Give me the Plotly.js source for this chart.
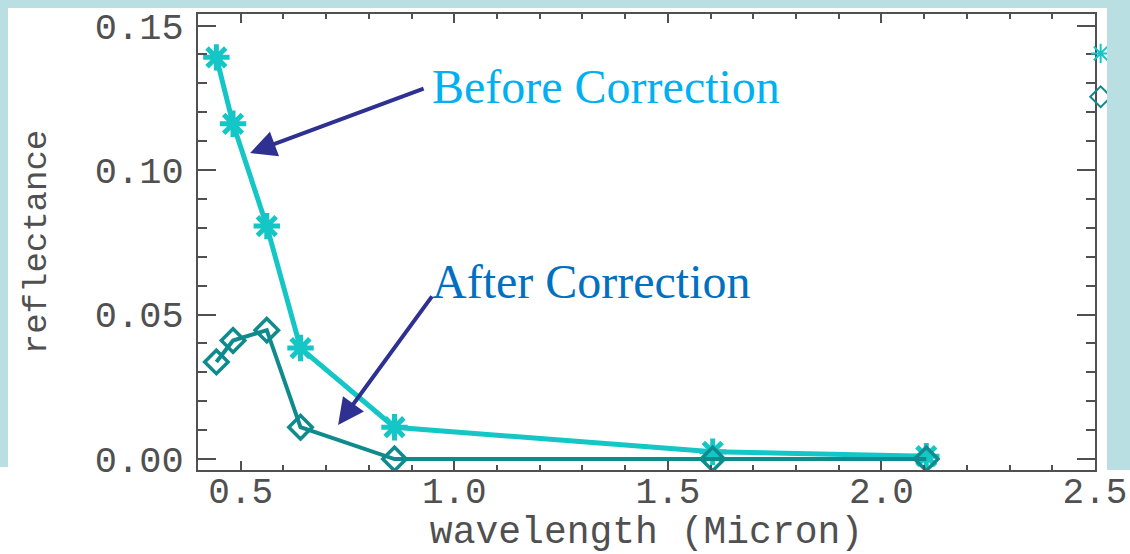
<!DOCTYPE html>
<html>
<head>
<meta charset="utf-8">
<script src="https://cdn.plot.ly/plotly-3.0.1.min.js"></script>
<style>
  html, body { margin: 0; padding: 0; background: #ffffff; }
  #wrap { position: relative; width: 1130px; height: 554px; overflow: hidden; background: #ffffff; }
  #chart { position: absolute; left: 0; top: 0; width: 1130px; height: 554px; z-index: 1; }
  .frame { position: absolute; background: #b9dfe2; z-index: 2; pointer-events: none; }
</style>
</head>
<body>
<div id="wrap">
  <div id="chart"></div>
  <div class="frame" style="left:0;top:0;width:1130px;height:8px;"></div>
  <div class="frame" style="left:0;top:0;width:8px;height:467px;"></div>
  <div class="frame" style="left:1107px;top:0;width:23px;height:470px;"></div>
</div>
<script>
// Band centre wavelengths (micron) and surface reflectance per band
const wavelength = [0.443, 0.482, 0.561, 0.640, 0.860, 1.605, 2.105];
const beforeCorrection = [0.139, 0.116, 0.0806, 0.0384, 0.011, 0.0025, 0.001];
const afterCorrection = [0.0336, 0.041, 0.0446, 0.011, 0.0, 0.0, 0.0];
const seriesNames = ['Before Correction', 'After Correction'];

const cyan = '#14c6c6';
const teal = '#0f8b8d';
const axisColor = '#505050';
const monoFont = 'Liberation Mono, DejaVu Sans Mono, monospace';

const beforeMarker = { symbol: 'asterisk-open', size: 22, color: cyan, line: { color: cyan, width: 5 } };
const afterMarker = { symbol: 'diamond-open', size: 18, color: teal, line: { color: teal, width: 3.5 } };

const traces = [
  {
    x: wavelength, y: beforeCorrection, type: 'scatter', mode: 'lines+markers',
    name: seriesNames[0], showlegend: false,
    line: { color: cyan, width: 5 }, marker: beforeMarker
  },
  {
    x: wavelength, y: afterCorrection, type: 'scatter', mode: 'lines+markers',
    name: seriesNames[1], showlegend: false,
    line: { color: teal, width: 4 }, marker: afterMarker
  },
  // legend entries (symbols only)
  { x: [null], y: [null], type: 'scatter', mode: 'markers', name: seriesNames[0],
    marker: { symbol: 'asterisk-open', size: 16, color: cyan, line: { color: cyan, width: 2 } } },
  { x: [null], y: [null], type: 'scatter', mode: 'markers', name: seriesNames[1],
    marker: { symbol: 'diamond-open', size: 16, color: teal, line: { color: teal, width: 2 } } }
];

const arrowColor = '#2e3192';

const layout = {
  width: 1130, height: 554,
  paper_bgcolor: 'rgba(0,0,0,0)',
  plot_bgcolor: '#ffffff',
  margin: { l: 198, r: 35, t: 14, b: 84, autoexpand: false },
  showlegend: true,
  legend: {
    x: 0.984, y: 0.972, xanchor: 'left', yanchor: 'top',
    bgcolor: 'rgba(0,0,0,0)', borderwidth: 0, tracegroupgap: 0,
    font: { family: monoFont, size: 31, color: axisColor }
  },
  xaxis: {
    range: [0.4, 2.5], dtick: 0.5, tick0: 0, tickformat: '.1f',
    showgrid: false, zeroline: false, automargin: false,
    showline: true, linecolor: axisColor, linewidth: 2, mirror: 'allticks',
    ticks: 'inside', ticklen: 9, tickwidth: 2, tickcolor: axisColor,
    minor: { dtick: 0.1, ticks: 'inside', ticklen: 5, tickwidth: 2, tickcolor: axisColor, showgrid: false },
    tickfont: { family: monoFont, size: 36, color: axisColor },
    ticklabelstandoff: -12,
    title: { text: 'wavelength (Micron)', font: { family: monoFont, size: 38, color: axisColor }, standoff: 8 }
  },
  yaxis: {
    range: [-0.0038, 0.154], dtick: 0.05, tick0: 0, tickformat: '.2f',
    showgrid: false, zeroline: false, automargin: false,
    showline: true, linecolor: axisColor, linewidth: 2, mirror: 'allticks',
    ticks: 'inside', ticklen: 18, tickwidth: 2, tickcolor: axisColor,
    minor: { dtick: 0.01, ticks: 'inside', ticklen: 9, tickwidth: 2, tickcolor: axisColor, showgrid: false },
    tickfont: { family: monoFont, size: 37, color: axisColor },
    ticklabelstandoff: 5,
    title: { text: 'reflectance', font: { family: monoFont, size: 34, color: axisColor }, standoff: 38 }
  },
  annotations: [
    { xref: 'x', yref: 'y', x: 0.942, y: 0.129, xanchor: 'left', yanchor: 'middle',
      text: seriesNames[0], showarrow: false,
      font: { family: 'Liberation Serif, Times New Roman, serif', size: 48, color: '#00b0f0' } },
    { xref: 'x', yref: 'y', x: 0.944, y: 0.0616, xanchor: 'left', yanchor: 'middle',
      text: seriesNames[1], showarrow: false,
      font: { family: 'Liberation Serif, Times New Roman, serif', size: 48, color: '#0070c0' } },
    { xref: 'x', yref: 'y', x: 0.522, y: 0.1059, text: '', showarrow: true,
      ax: 175, ay: -65, arrowhead: 2, arrowsize: 1.3, arrowwidth: 4, arrowcolor: arrowColor, standoff: 0 },
    { xref: 'x', yref: 'y', x: 0.728, y: 0.0118, text: '', showarrow: true,
      ax: 95, ay: -130, arrowhead: 2, arrowsize: 1.3, arrowwidth: 4, arrowcolor: arrowColor, standoff: 0 }
  ]
};

Plotly.newPlot('chart', traces, layout, { displayModeBar: false, staticPlot: true });
</script>
</body>
</html>
